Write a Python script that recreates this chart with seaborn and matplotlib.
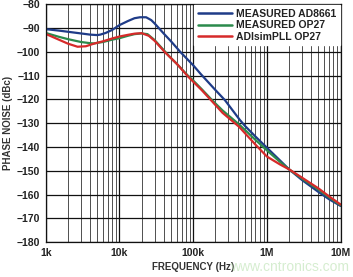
import numpy as np
import pandas as pd
import seaborn as sns
import matplotlib.pyplot as plt
from matplotlib.ticker import FixedLocator, LogLocator, NullFormatter

# values (Hz, dBc)
freq_ad8661 = [1e3, 1.5e3, 2e3, 3e3, 4e3, 5e3, 5.5e3, 6.5e3, 8e3, 10e3, 13e3, 16e3, 19e3, 23e3,
               27e3, 30e3, 35e3, 40e3, 50e3, 67e3, 100e3, 126e3, 200e3, 270e3, 427e3, 500e3,
               700e3, 1e6, 1.5e6, 2e6, 3e6, 5e6, 7e6, 10e6]
pn_ad8661 = [-90.4, -91.0, -91.5, -92.2, -92.7, -92.9, -92.7, -92.0, -90.7, -88.7, -87.0, -85.8, -85.4, -85.4,
             -86.6, -88.0, -90.3, -92.3, -95.5, -100.0, -105.6, -109.2, -116.0, -120.3, -128.5, -131.0,
             -135.6, -140.3, -145.6, -149.4, -153.9, -158.9, -162.0, -164.8]

freq_op27 = [1e3, 1.5e3, 2e3, 3e3, 4e3, 4.5e3, 6e3, 8e3, 10e3, 13e3, 16e3, 20e3, 24e3,
             30e3, 35e3, 42e3, 48e3, 60e3, 85e3, 100e3, 130e3, 177e3, 250e3, 420e3, 700e3,
             1e6, 1.5e6, 2e6, 3e6, 5e6, 7e6, 10e6]
pn_op27 = [-92.0, -93.6, -94.6, -95.8, -96.3, -96.4, -95.8, -94.8, -94.2, -93.2, -92.5, -92.2, -92.5,
           -95.0, -97.3, -100.0, -102.0, -105.0, -110.0, -112.0, -115.6, -120.0, -124.6, -130.5, -137.0,
           -141.4, -146.2, -149.4, -153.3, -157.9, -161.2, -164.5]

freq_sim = [1e3, 1.5e3, 2e3, 2.7e3, 3.5e3, 4.5e3, 6e3, 8e3, 10e3, 13e3, 16e3, 20e3, 25e3,
            30e3, 42e3, 60e3, 85e3, 100e3, 130e3, 177e3, 250e3, 420e3, 700e3, 1e6, 1.5e6,
            2e6, 3e6, 5e6, 7e6, 10e6]
pn_sim = [-92.4, -94.8, -96.5, -97.8, -97.6, -96.5, -95.5, -94.3, -93.5, -92.8, -92.3, -92.1, -93.2,
          -95.3, -100.3, -105.0, -110.3, -112.5, -116.0, -120.5, -125.6, -131.5, -139.0, -144.0, -147.3,
          -149.4, -152.9, -157.4, -160.8, -164.2]

labels = ["MEASURED AD8661", "MEASURED OP27", "ADIsimPLL OP27"]
colors = ["#1f3c88", "#2b8a4c", "#d62a2a"]

df = pd.concat([
    pd.DataFrame({"freq": freq_ad8661, "pn": pn_ad8661, "series": labels[0]}),
    pd.DataFrame({"freq": freq_op27, "pn": pn_op27, "series": labels[1]}),
    pd.DataFrame({"freq": freq_sim, "pn": pn_sim, "series": labels[2]}),
])

sns.set_style("white")
plt.rcParams['font.family'] = ['Liberation Sans', 'DejaVu Sans']

fig = plt.figure(figsize=(3.53, 2.77), dpi=100)
ax = fig.add_axes([0.1295, 0.126, 0.8355, 0.858])

sns.lineplot(data=df, x="freq", y="pn", hue="series", hue_order=labels,
             palette=colors, sort=False, linewidth=1.6, ax=ax)

ax.set_xscale("log")
ax.set_xlim(1e3, 1e7)
ax.set_ylim(-180, -80)
ax.yaxis.set_major_locator(FixedLocator(np.arange(-180, -79, 10)))
ax.xaxis.set_major_locator(FixedLocator([1e3, 1e4, 1e5, 1e6, 1e7]))
ax.xaxis.set_minor_locator(LogLocator(base=10, subs=np.arange(2, 10)))
ax.xaxis.set_minor_formatter(NullFormatter())
ax.set_xticklabels(["1k", "10k", "100k", "1M", "10M"])
ax.set_yticklabels(["\u2212%d" % abs(v) for v in range(-180, -79, 10)])

ax.grid(which="major", color="#111111", linewidth=0.9)
ax.grid(which="minor", axis="x", color="#333333", linewidth=0.6)
ax.set_axisbelow(True)
for s in ax.spines.values():
    s.set_color("#111111")
    s.set_linewidth(0.9)
ax.tick_params(length=0, pad=4, labelsize=7.5)
for t in ax.get_xticklabels() + ax.get_yticklabels():
    t.set_fontweight("bold")
    t.set_color("#222222")

ax.set_xlabel("FREQUENCY (Hz)", fontsize=7, fontweight="bold", color="#333333", labelpad=3)
ax.set_ylabel("PHASE NOISE (dBc)", fontsize=7, fontweight="bold", color="#333333", labelpad=3)

leg = ax.legend(loc="upper right", frameon=True, fontsize=7.5, handlelength=3.3,
                handletextpad=0.4, labelspacing=0.15, borderpad=0.35,
                borderaxespad=0.05, fancybox=False)
leg.get_frame().set_facecolor("white")
leg.get_frame().set_edgecolor("white")
leg.get_frame().set_alpha(1)
for t in leg.get_texts():
    t.set_fontweight("bold")
    t.set_color("#222222")
for h in leg.get_lines():
    h.set_linewidth(1.8)

# faint site watermark at the bottom right
fig.text(0.99, 0.035, "www.cntronics.com", fontsize=10, color="#c4e6bc", alpha=0.7,
         ha="right", va="center", zorder=0)

plt.savefig("out.png", dpi=100)
